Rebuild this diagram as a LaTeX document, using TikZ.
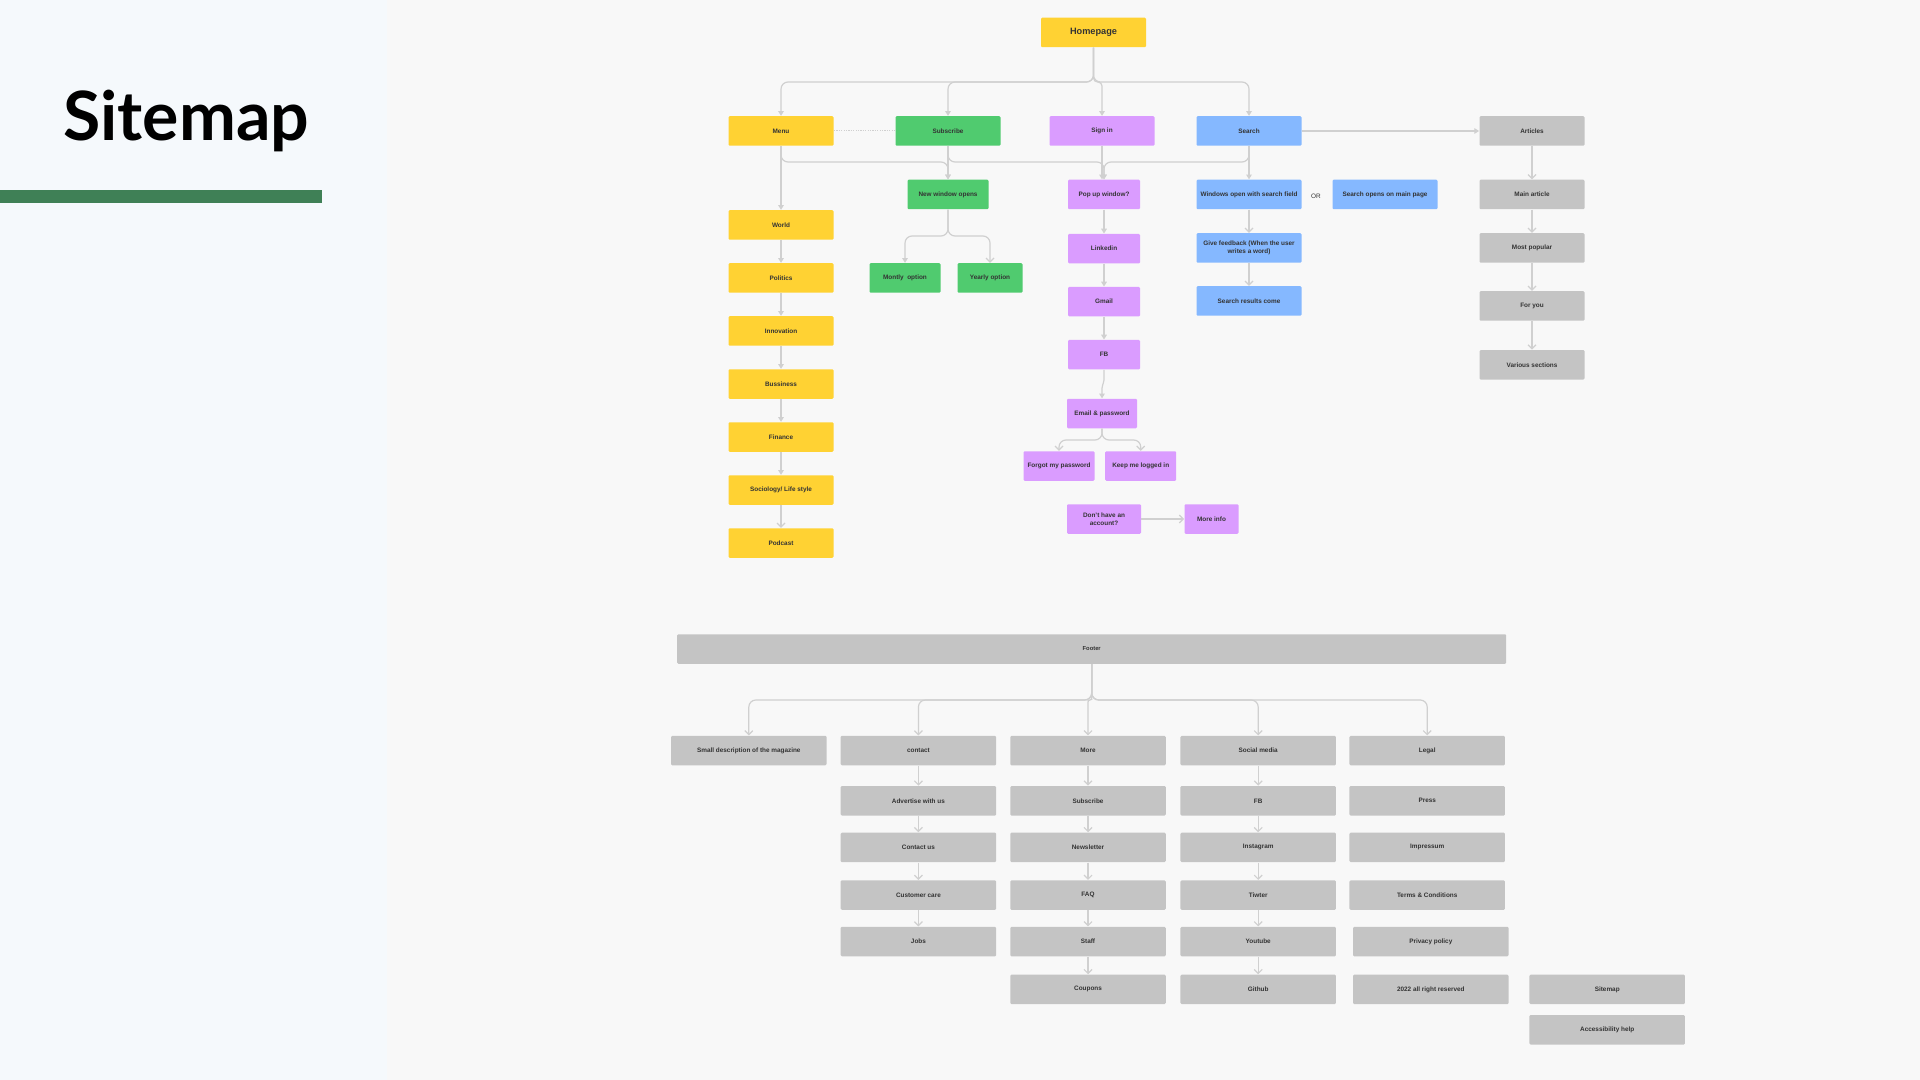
\documentclass[tikz,border=0pt]{standalone}
\usepackage{fontspec}
\setmainfont{Liberation Sans}
\newfontfamily\titlefont{Lato}
\usetikzlibrary{arrows.meta}
\definecolor{bgR}{HTML}{F8F8F8}
\definecolor{bgL}{HTML}{F5F9FC}
\definecolor{barG}{HTML}{3F8056}
\definecolor{cY}{HTML}{FFD233}
\definecolor{cG}{HTML}{50CB6F}
\definecolor{cP}{HTML}{DA9CFF}
\definecolor{cB}{HTML}{85B8FF}
\definecolor{cK}{HTML}{C4C4C4}
\definecolor{ln}{HTML}{D0D0D0}
\definecolor{tx}{HTML}{333333}
\tikzset{
  bx/.style={inner sep=0pt, minimum height=14.75pt, minimum width=52.5pt, align=center,
    text=tx, font=\bfseries\fontsize{3.2pt}{4pt}\selectfont, rounded corners=0.6pt},
  yb/.style={bx, fill=cY},
  gb/.style={bx, fill=cG},
  pb/.style={bx, fill=cP},
  bb/.style={bx, fill=cB},
  kb/.style={bx, fill=cK},
  fb/.style={kb, minimum width=77.75pt},
  wpx/.style={minimum width=#1*0.5pt},
  conn/.style={draw=ln, line width=0.6pt, rounded corners=3.5pt},
  tri/.style={-{Triangle[length=2.4pt,width=2.8pt]}},
  barb/.style={-{Straight Barb[length=2pt,width=4pt]}}
}
\begin{document}
\begin{tikzpicture}[x=0.5pt,y=-0.5pt]
\useasboundingbox (0,0) rectangle (1920,1080);
\fill[bgR] (0,0) rectangle (1920,1080);
\fill[bgL] (0,0) rectangle (387,1080);
\node[anchor=base west, inner sep=0pt, text=black, font=\titlefont\bfseries\fontsize{34pt}{34pt}\selectfont] (title) at (63,141) {Sitemap};
\fill[barG] (0,190) rectangle (322,203);

% top level
\node[yb, font=\bfseries\fontsize{4.6pt}{5pt}\selectfont] (home) at (1093.5,32.5) {Homepage};
\node[yb] (menu) at (781,131) {Menu};
\node[gb] (sub) at (948,131) {Subscribe};
\node[pb] (signin) at (1102,131) {Sign in};
\node[bb] (search) at (1249,131) {Search};
\node[kb] (articles) at (1532,131) {Articles};

% row 2
\node[gb, wpx=81] (newwin) at (948,194.5) {New window opens};
\node[pb, wpx=72] (popup) at (1104,194.5) {Pop up window?};
\node[bb] (winopen) at (1249,194.5) {Windows open with search field};
\node[text=tx, font=\fontsize{3.2pt}{4pt}\selectfont, inner sep=0pt] (or) at (1316,196) {OR};
\node[bb] (searchmain) at (1385,194.5) {Search opens on main page};
\node[kb] (mainart) at (1532,194.5) {Main article};

% menu column
\node[yb] (world) at (781,225) {World};
\node[yb] (politics) at (781,278) {Politics};
\node[yb] (innov) at (781,331) {Innovation};
\node[yb] (buss) at (781,384) {Bussiness};
\node[yb] (finance) at (781,437) {Finance};
\node[yb] (socio) at (781,490) {Sociology/ Life style};
\node[yb] (podcast) at (781,543) {Podcast};

% subscribe
\node[gb, wpx=71] (monthly) at (905,278) {Montly\ \ option};
\node[gb, wpx=65] (yearly) at (990,278) {Yearly option};

% sign in column
\node[pb, wpx=72] (linkedin) at (1104,248.7) {Linkedin};
\node[pb, wpx=72] (gmail) at (1104,301.7) {Gmail};
\node[pb, wpx=72] (fbk) at (1104,354.7) {FB};
\node[pb, wpx=70] (email) at (1102,413.5) {Email \& password};
\node[pb, wpx=71] (forgot) at (1059,466) {Forgot my password};
\node[pb, wpx=71] (keep) at (1140.7,466) {Keep me logged in};
\node[pb, wpx=74] (dont) at (1104,519) {Don’t have an\\account?};
\node[pb, wpx=54] (moreinfo) at (1211.5,519) {More info};

% search column
\node[bb] (feedback) at (1249,248) {Give feedback (When the user\\writes a word)};
\node[bb] (results) at (1249,301) {Search results come};

% articles column
\node[kb] (popular) at (1532,248) {Most popular};
\node[kb] (foryou) at (1532,306) {For you};
\node[kb] (various) at (1532,364.8) {Various sections};

% footer
\node[kb, minimum width=414.5pt, font=\bfseries\fontsize{2.9pt}{3.5pt}\selectfont] (footer) at (1091.7,649) {Footer};
\node[fb] (fsmall) at (748.8,750.6) {Small description of the magazine};
\node[fb] (fcontact) at (918.4,750.6) {contact};
\node[fb] (fmore) at (1088,750.6) {More};
\node[fb] (fsocial) at (1258.2,750.6) {Social media};
\node[fb] (flegal) at (1427.2,750.6) {Legal};

\node[fb] (fadv) at (918.4,800.8) {Advertise with us};
\node[fb] (fcus) at (918.4,847.4) {Contact us};
\node[fb] (fcare) at (918.4,895.1) {Customer care};
\node[fb] (fjobs) at (918.4,941.6) {Jobs};

\node[fb] (fsubs) at (1088,800.8) {Subscribe};
\node[fb] (fnews) at (1088,847.4) {Newsletter};
\node[fb] (ffaq) at (1088,895.1) {FAQ};
\node[fb] (fstaff) at (1088,941.6) {Staff};
\node[fb] (fcoup) at (1088,989.4) {Coupons};

\node[fb] (ffb) at (1258.2,800.8) {FB};
\node[fb] (finsta) at (1258.2,847.4) {Instagram};
\node[fb] (ftw) at (1258.2,895.1) {Tiwter};
\node[fb] (fyt) at (1258.2,941.6) {Youtube};
\node[fb] (fgit) at (1258.2,989.4) {Github};

\node[fb] (fpress) at (1427.2,800.8) {Press};
\node[fb] (fimp) at (1427.2,847.4) {Impressum};
\node[fb] (fterms) at (1427.2,895.1) {Terms \& Conditions};
\node[fb] (fpriv) at (1430.8,941.6) {Privacy policy};
\node[fb] (f2022) at (1430.8,989.4) {2022 all right reserved};
\node[fb] (fsitemap) at (1607.2,989.4) {Sitemap};
\node[fb] (faccess) at (1607.2,1029.8) {Accessibility help};

% helper coordinates
\coordinate (hy) at (0,82);
\coordinate (my) at (0,162);
\coordinate (ny) at (0,236);
\coordinate (ey) at (0,440);
\coordinate (fy) at (0,700);
\coordinate (fk1) at (1104,382);
\coordinate (fk2) at (1102,386);

% homepage branches
\draw[conn,tri] (home.south) -- (home.south |- hy) -| (menu.north);
\draw[conn,tri] (home.south) -- (home.south |- hy) -| (sub.north);
\draw[conn,tri,rounded corners=2pt] (home.south) -- (home.south |- hy) -| (signin.north);
\draw[conn,tri] (home.south) -- (home.south |- hy) -| (search.north);

% row 1 connections
\draw[conn, line width=0.5pt, dash pattern=on 0.6pt off 0.6pt] (menu.east) -- (sub.west);
\draw[conn,tri] (search.east) -- (articles.west);
\draw[conn,tri] (menu.south) -- (menu.south |- my) -| (newwin.north);
\draw[conn,tri] (sub.south) -- (newwin.north);
\draw[conn,tri] (sub.south) -- (sub.south |- my) -| (popup.north);
\draw[conn,tri] (signin.south) -- (signin.south |- popup.north);
\draw[conn,tri] (search.south) -- (search.south |- my) -| (popup.north);
\draw[conn,tri] (search.south) -- (winopen.north);

% menu column
\draw[conn,tri] (menu.south) -- (world.north);
\draw[conn,tri] (world) -- (politics);
\draw[conn,tri] (politics) -- (innov);
\draw[conn,tri] (innov) -- (buss);
\draw[conn,tri] (buss) -- (finance);
\draw[conn,tri] (finance) -- (socio);
\draw[conn,barb] (socio) -- (podcast);

% subscribe branch
\draw[conn,tri] (newwin.south) -- (newwin.south |- ny) -| (monthly.north);
\draw[conn,barb] (newwin.south) -- (newwin.south |- ny) -| (yearly.north);

% sign in chain
\draw[conn,tri] (popup) -- (linkedin);
\draw[conn,tri] (linkedin) -- (gmail);
\draw[conn,tri] (gmail) -- (fbk);
\draw[conn,tri,rounded corners=1pt] (fbk.south) -- (fk1) -- (fk2) -- (email.north);
\draw[conn,barb] (email.south) -- (email.south |- ey) -| (forgot.north);
\draw[conn,barb] (email.south) -- (email.south |- ey) -| (keep.north);
\draw[conn,barb] (dont) -- (moreinfo);

% search chain
\draw[conn,barb] (winopen) -- (feedback);
\draw[conn,barb] (feedback) -- (results);

% articles chain
\draw[conn,barb] (articles) -- (mainart);
\draw[conn,barb] (mainart) -- (popular);
\draw[conn,barb] (popular) -- (foryou);
\draw[conn,barb] (foryou) -- (various);

% footer branches
\draw[conn,barb] (footer.south) -- (footer.south |- fy) -| (fsmall.north);
\draw[conn,barb] (footer.south) -- (footer.south |- fy) -| (fcontact.north);
\draw[conn,barb,rounded corners=1pt] (footer.south) -- (footer.south |- fy) -| (fmore.north);
\draw[conn,barb] (footer.south) -- (footer.south |- fy) -| (fsocial.north);
\draw[conn,barb] (footer.south) -- (footer.south |- fy) -| (flegal.north);

% footer chains
\draw[conn,barb] (fcontact) -- (fadv);
\draw[conn,barb] (fadv) -- (fcus);
\draw[conn,barb] (fcus) -- (fcare);
\draw[conn,barb] (fcare) -- (fjobs);
\draw[conn,barb] (fmore) -- (fsubs);
\draw[conn,barb] (fsubs) -- (fnews);
\draw[conn,barb] (fnews) -- (ffaq);
\draw[conn,barb] (ffaq) -- (fstaff);
\draw[conn,barb] (fstaff) -- (fcoup);
\draw[conn,barb] (fsocial) -- (ffb);
\draw[conn,barb] (ffb) -- (finsta);
\draw[conn,barb] (finsta) -- (ftw);
\draw[conn,barb] (ftw) -- (fyt);
\draw[conn,barb] (fyt) -- (fgit);
\end{tikzpicture}
\end{document}
